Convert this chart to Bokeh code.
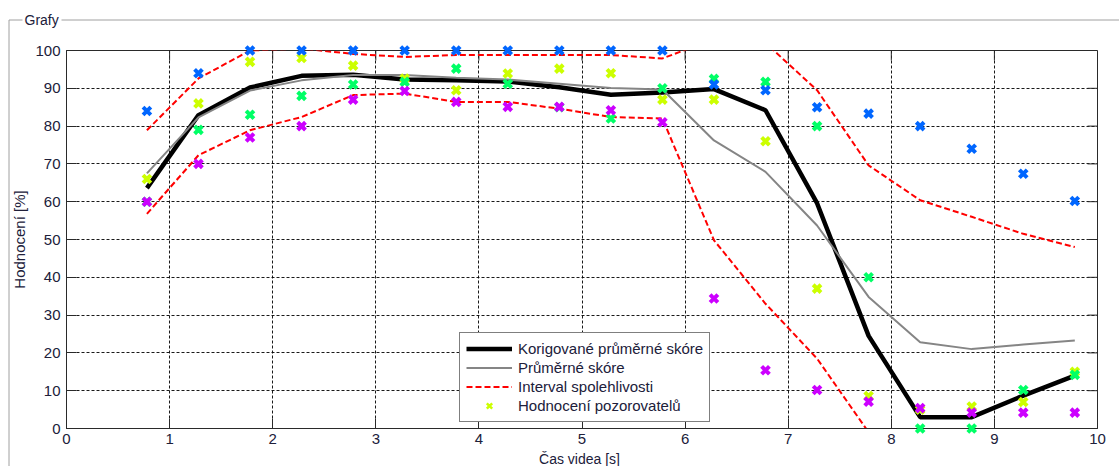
from bokeh.plotting import figure
from bokeh.models import Range1d, FixedTicker, Legend, LegendItem
from bokeh.core.properties import value
from bokeh.embed import file_html
from bokeh.resources import INLINE

# ---------------- data ----------------
t = [0.78, 1.28, 1.78, 2.28, 2.78, 3.28, 3.78, 4.28, 4.78, 5.28,
     5.78, 6.28, 6.78, 7.28, 7.78, 8.28, 8.78, 9.28, 9.78]

corrected = [63.6, 82.9, 90.2, 93.3, 93.6, 92.3, 92.1, 91.8, 90.3, 88.3,
             88.9, 89.8, 84.2, 59.6, 24.5, 3.0, 3.0, 8.7, 14.0]
mean_score = [67.5, 82.3, 89.4, 92.1, 93.5, 93.5, 92.8, 92.3, 91.2, 90.1,
              89.7, 76.2, 67.9, 53.7, 34.8, 22.8, 21.0, 22.2, 23.3]
ci_upper = [78.9, 92.6, 100.0, 100.5, 99.1, 98.3, 98.8, 98.8, 98.8, 98.8,
            97.9, 103.0, 102.0, 89.5, 69.6, 60.4, 56.0, 51.5, 48.0]
nan = float("nan")
ci_lower = [56.8, 72.3, 78.9, 82.4, 88.2, 88.6, 86.4, 86.4, 84.6, 82.4,
            82.0, 49.8, 33.0, 18.5, -1.0, nan, nan, nan, nan]

obs_yellow = [66, 86, 97, 98, 96, 92.6, 89.5, 93.9, 95.2, 94,
              87, 87, 76, 37, 8.6, 5, 5.8, 7, 15]
obs_green = [60, 79, 83, 88, 91, 91.7, 95.2, 91.2, 85, 82,
             90, 92.5, 91.7, 80, 40, 0, 0, 10.2, 14.2]
obs_blue = [84, 94, 100, 100, 100, 100, 100, 100, 100, 100,
            100, 91, 89.5, 85, 83.3, 80, 74, 67.4, 60.2]
obs_purple = [60, 70, 77, 80, 87, 89.3, 86.4, 85.1, 85.1, 84.2,
              81, 34.4, 15.4, 10.2, 7.1, 5.4, 4.2, 4.2, 4.2]

x_ticks = list(range(0, 11))
y_ticks = list(range(0, 101, 10))

labels = ["Korigované průměrné skóre", "Průměrné skóre",
          "Interval spolehlivosti", "Hodnocení pozorovatelů"]
panel_title = "Grafy"
x_label = "Čas videa [s]"
y_label = "Hodnocení [%]"

# ---------------- layout constants ----------------
W, H = 1119, 466
F_LEFT, F_TOP, F_RIGHT, F_BOTTOM = 66, 50, 1097, 428
FW, FH = F_RIGHT - F_LEFT, F_BOTTOM - F_TOP
X0, X1, Y0, Y1 = 0, 10, 0, 100


def px_x(px):
    return X0 + (px - F_LEFT) * (X1 - X0) / FW


def px_y(py):
    return Y0 + (F_BOTTOM - py) * (Y1 - Y0) / FH


FRAME = "#2a2a2a"
TXT = "#20203a"
FONT = "Liberation Sans"

p = figure(width=W, height=H, output_backend="svg", toolbar_location=None,
           x_range=Range1d(X0, X1), y_range=Range1d(Y0, Y1),
           min_border_left=F_LEFT, min_border_right=W - F_RIGHT,
           min_border_top=F_TOP, min_border_bottom=H - F_BOTTOM,
           background_fill_color="white", border_fill_color="white")

p.outline_line_color = FRAME
p.outline_line_width = 1

for ax, ticks in ((p.xaxis[0], x_ticks), (p.yaxis[0], y_ticks)):
    ax.ticker = FixedTicker(ticks=ticks)
    ax.major_tick_in = 10
    ax.major_tick_out = 0
    ax.minor_tick_line_color = None
    ax.axis_line_color = FRAME
    ax.major_tick_line_color = FRAME
    ax.major_label_text_font = FONT
    ax.major_label_text_font_size = "15px"
    ax.major_label_text_color = TXT

p.xaxis.major_label_standoff = 5
p.yaxis.major_label_standoff = 6
p.yaxis.axis_label = y_label
p.yaxis.axis_label_text_font = FONT
p.yaxis.axis_label_text_font_size = "15px"
p.yaxis.axis_label_text_font_style = "normal"
p.yaxis.axis_label_text_color = TXT
p.yaxis.axis_label_standoff = 4

for g in (p.xgrid[0], p.ygrid[0]):
    g.grid_line_color = "black"
    g.grid_line_dash = "3 2"
    g.grid_line_width = 1
    g.grid_line_alpha = 0.9

# mirrored inner ticks on top and right edges (10 px long)
tick_dy = 10 * (Y1 - Y0) / FH
tick_dx = 10 * (X1 - X0) / FW
p.segment(x0=x_ticks, y0=[Y1] * len(x_ticks), x1=x_ticks,
          y1=[Y1 - tick_dy] * len(x_ticks), line_color=FRAME, line_width=1)
p.segment(x0=[X1] * len(y_ticks), y0=y_ticks, x1=[X1 - tick_dx] * len(y_ticks),
          y1=y_ticks, line_color=FRAME, line_width=1)

# ---------------- lines ----------------
r_black = p.line(t, corrected, line_color="black", line_width=4.5)
r_gray = p.line(t, mean_score, line_color="#858585", line_width=2)
r_up = p.line(t, ci_upper, line_color="#ff0000", line_width=2, line_dash="6 3")
r_lo = p.line(t, ci_lower, line_color="#ff0000", line_width=2, line_dash="6 3")

# ---------------- observers ----------------
obs_series = [(obs_yellow, "#ccff00"), (obs_green, "#00ff66"),
              (obs_blue, "#0066ff"), (obs_purple, "#cc00ff")]
obs_renderers = []
for vals, col in obs_series:
    r = p.scatter(t, vals, marker="x", size=11, line_color=col, line_width=4,
                  level="overlay")
    obs_renderers.append(r)

# legend-only proxy for the observer marker (thinner so it reads as an X)
r_obs_legend = p.scatter(x=[nan], y=[nan], marker="x", size=11,
                         line_color="#ccff00", line_width=2.5)

legend = Legend(items=[
    LegendItem(label=labels[0], renderers=[r_black]),
    LegendItem(label=labels[1], renderers=[r_gray]),
    LegendItem(label=labels[2], renderers=[r_up]),
    LegendItem(label=labels[3], renderers=[r_obs_legend]),
], location=(459 - F_LEFT, F_BOTTOM - 422), margin=0, padding=6, spacing=0,
    label_height=19, glyph_height=19, glyph_width=46, label_standoff=6,
    border_line_color="black", border_line_width=1,
    background_fill_color="white", background_fill_alpha=1,
    label_text_font=FONT, label_text_font_size="15px", label_text_color=TXT)
p.add_layout(legend)

# ---------------- "Grafy" group frame ----------------
PANEL = "#a0a0a0"
p.line(x=[px_x(22), px_x(8.5), px_x(8.5)], y=[px_y(19.5), px_y(19.5), px_y(H + 20)],
       line_color=PANEL, line_width=1, level="overlay")
p.line(x=[px_x(61), px_x(W + 20)], y=[px_y(19.5), px_y(19.5)],
       line_color=PANEL, line_width=1, level="overlay")
p.text(x=[px_x(24)], y=[px_y(19)], text=[panel_title], text_font=value(FONT),
       text_font_size="14px", text_color=TXT, text_baseline="middle",
       text_align="left", level="overlay")

# x-axis title (kept just inside the bottom edge)
p.text(x=[px_x(579)], y=[px_y(450)], text=[x_label],
       text_font=value(FONT), text_font_size="14px", text_color=TXT,
       text_baseline="top", text_align="center", level="overlay")

open("out.html", "w").write(file_html(p, INLINE))
